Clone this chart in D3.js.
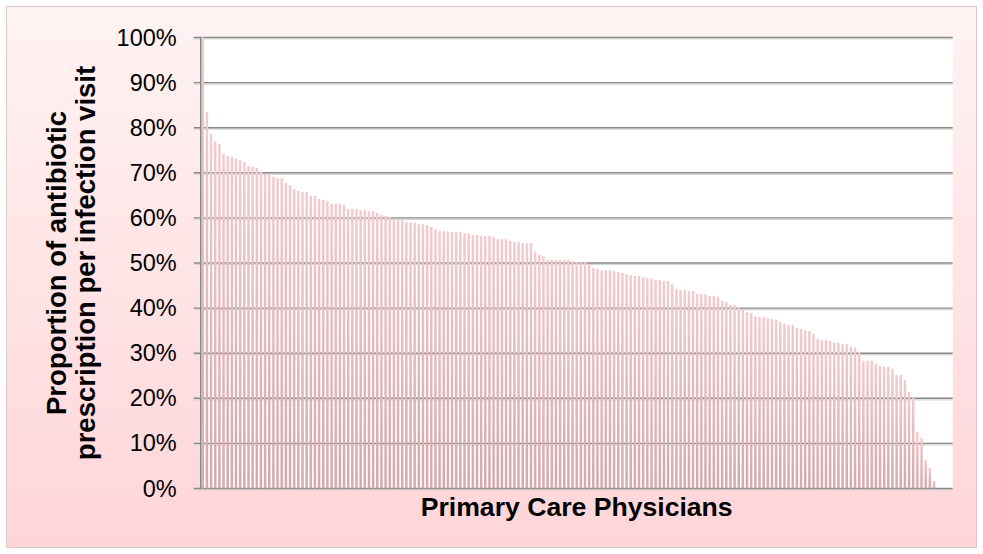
<!DOCTYPE html>
<html>
<head>
<meta charset="utf-8">
<script src="https://cdn.jsdelivr.net/npm/d3@7"></script>
<style>
	html, body { margin: 0; padding: 0; background: #fff; }
	svg { display: block; }
</style>
</head>
<body>
<svg id="chart" width="983" height="554"></svg>
<script>
// share of infection visits with an antibiotic prescribed, one bar per physician, sorted
var rates = [
	100, 83.5, 78.6, 77.0, 76.4, 74.2, 73.7, 73.5, 73.1, 72.8,
	72.4, 71.5, 71.3, 71.1, 70.2, 69.7, 69.5, 69.1, 68.8, 68.8,
	67.7, 67.3, 66.4, 66.0, 65.7, 65.7, 64.9, 64.9, 64.2, 64.0,
	63.7, 63.1, 63.1, 63.1, 62.9, 62.0, 62.0, 62.0, 61.7, 61.7,
	61.5, 61.5, 61.1, 60.6, 60.4, 60.2, 59.5, 59.5, 59.5, 59.1,
	58.9, 58.9, 58.6, 58.6, 58.4, 58.0, 57.5, 57.1, 57.1, 57.0,
	56.9, 56.9, 56.9, 56.6, 56.6, 56.2, 56.2, 56.0, 56.0, 56.0,
	55.8, 55.3, 55.3, 55.3, 54.9, 54.7, 54.7, 54.4, 54.4, 54.4,
	52.4, 51.8, 51.5, 50.7, 50.7, 50.7, 50.7, 50.7, 50.7, 50.4,
	50.2, 50.2, 50.2, 49.8, 48.9, 48.7, 48.4, 48.4, 48.4, 48.2,
	48.0, 47.8, 47.5, 47.3, 47.1, 47.1, 46.9, 46.7, 46.5, 46.2,
	46.2, 46.0, 46.0, 45.3, 44.2, 44.0, 44.0, 43.8, 43.8, 43.1,
	43.1, 43.1, 42.7, 42.7, 42.5, 41.6, 41.4, 40.7, 40.7, 40.2,
	39.8, 39.1, 38.9, 38.2, 38.0, 38.0, 37.8, 37.6, 37.4, 36.9,
	36.5, 36.3, 36.3, 35.6, 35.4, 35.1, 34.9, 34.3, 33.2, 32.9,
	32.9, 32.7, 32.3, 32.3, 32.0, 32.0, 31.4, 31.2, 30.3, 28.3,
	28.3, 28.3, 27.6, 27.2, 27.0, 27.0, 26.5, 25.2, 25.2, 24.1,
	21.4, 20.1, 12.5, 11.2, 6.3, 4.5, 1.7, 0, 0, 0,
	0
];
var physicians = rates.map(function(d, i) { return "Physician " + (i + 1); });
var yTicks = [0, 10, 20, 30, 40, 50, 60, 70, 80, 90, 100];
var xTitle = "Primary Care Physicians";
var yTitle = ["Proportion of antibiotic", "prescription per infection visit"];

var plot = { left: 200.7, right: 952.7, top: 37.5, bottom: 488.5 };
var svg = d3.select("#chart");
var defs = svg.append("defs");

var bg = defs.append("linearGradient").attr("id", "bg")
	.attr("x1", 0).attr("y1", 0).attr("x2", 0).attr("y2", 1);
bg.append("stop").attr("offset", "0%").attr("stop-color", "#fff3f3");
bg.append("stop").attr("offset", "100%").attr("stop-color", "#ffd5d8");

var barFill = defs.append("linearGradient").attr("id", "barFill")
	.attr("x1", 0).attr("y1", 0).attr("x2", 0).attr("y2", 1);
barFill.append("stop").attr("offset", "0%").attr("stop-color", "#f1cbce");
barFill.append("stop").attr("offset", "100%").attr("stop-color", "#d5a8ab");

// chart frame
svg.append("rect")
	.attr("x", 6.5).attr("y", 6.5)
	.attr("width", 970).attr("height", 541)
	.attr("fill", "url(#bg)")
	.attr("stroke", "#dcc8c9")
	.attr("stroke-width", 1);

svg.append("rect")
	.attr("x", plot.left).attr("y", plot.top)
	.attr("width", plot.right - plot.left)
	.attr("height", plot.bottom - plot.top)
	.attr("fill", "#fff");

var x = d3.scaleBand()
	.domain(physicians)
	.range([plot.left, plot.right])
	.paddingInner(0.4)
	.paddingOuter(0.2);

var y = d3.scaleLinear()
	.domain([0, 100])
	.range([plot.bottom, plot.top]);

// gridlines with their soft shadow
var grid = svg.append("g").selectAll("g").data(yTicks).enter().append("g");
grid.append("line")
	.attr("x1", plot.left - 7).attr("x2", plot.right)
	.attr("y1", function(d) { return y(d) + 1.5; })
	.attr("y2", function(d) { return y(d) + 1.5; })
	.attr("stroke", "#d6d6d6")
	.attr("stroke-width", 1.2);
grid.append("line")
	.attr("x1", plot.left - 7).attr("x2", plot.right)
	.attr("y1", function(d) { return y(d); })
	.attr("y2", function(d) { return y(d); })
	.attr("stroke", "#898989")
	.attr("stroke-width", 1.4);

svg.append("g").selectAll("rect.bar").data(rates).enter().append("rect")
	.classed("bar", 1)
	.attr("x", function(d, i) { return x(physicians[i]); })
	.attr("y", function(d) { return y(d); })
	.attr("width", x.bandwidth())
	.attr("height", function(d) { return y(0) - y(d); })
	.attr("fill", "url(#barFill)");

// value axis line
svg.append("line")
	.attr("x1", plot.left + 1).attr("x2", plot.left + 1)
	.attr("y1", plot.top).attr("y2", plot.bottom)
	.attr("stroke", "#d6d6d6").attr("stroke-width", 1.2);
svg.append("line")
	.attr("x1", plot.left).attr("x2", plot.left)
	.attr("y1", plot.top - 0.5).attr("y2", plot.bottom + 0.5)
	.attr("stroke", "#898989").attr("stroke-width", 1.4);

var yAxis = d3.axisLeft(y)
	.tickValues(yTicks)
	.tickSize(0)
	.tickPadding(24)
	.tickFormat(function(d) { return d + "%"; });

var yAxisG = svg.append("g")
	.attr("transform", "translate(" + plot.left + ",0)")
	.call(yAxis);
yAxisG.select(".domain").remove();
yAxisG.selectAll("text")
	.attr("font-family", "Liberation Sans, Arial, sans-serif")
	.attr("font-size", "23.5px")
	.attr("fill", "#000");

svg.append("text")
	.text(xTitle)
	.attr("x", (plot.left + plot.right) / 2)
	.attr("y", 516)
	.attr("text-anchor", "middle")
	.attr("font-family", "Liberation Sans, Arial, sans-serif")
	.attr("font-weight", "bold")
	.attr("font-size", "26.6px")
	.attr("fill", "#000");

svg.append("g").selectAll("text").data(yTitle).enter().append("text")
	.text(function(d) { return d; })
	.attr("transform", function(d, i)
	{
		return "translate(" + (66 + i * 29) + ",263) rotate(-90)";
	})
	.attr("text-anchor", "middle")
	.attr("font-family", "Liberation Sans, Arial, sans-serif")
	.attr("font-weight", "bold")
	.attr("font-size", "27.5px")
	.attr("fill", "#000");
</script>
</body>
</html>
